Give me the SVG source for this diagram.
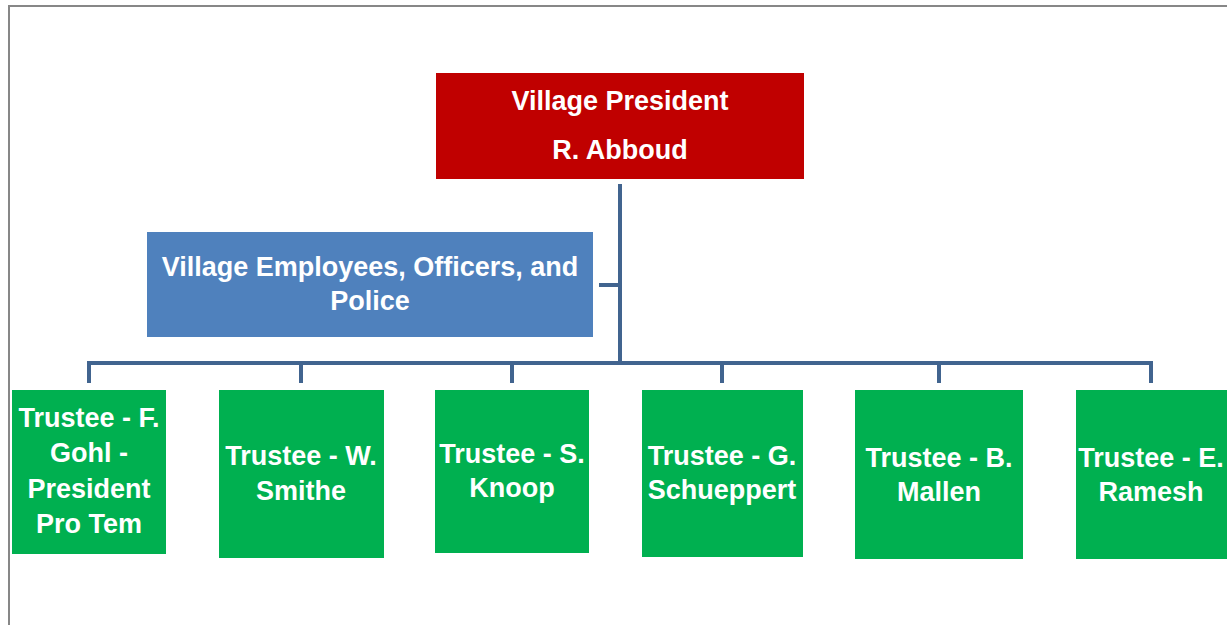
<svg xmlns="http://www.w3.org/2000/svg" width="1227" height="625" viewBox="0 0 1227 625">
<style>
.t{font-family:"Liberation Sans",Arial,sans-serif;font-weight:bold;font-size:27px;fill:#ffffff;text-anchor:middle}
.c{stroke:#41648f;stroke-width:4;fill:none}
.g{fill:#00b050}
</style>
<rect x="0" y="0" width="1227" height="625" fill="#ffffff"/>
<rect x="9" y="6" width="1400" height="800" fill="none" stroke="#878787" stroke-width="2"/>
<g id="connectors">
<path class="c" d="M620 184V363M599 285H620M88 363H1153M89 361V383M301 361V383M512 361V383M722 361V383M939 361V383M1151 361V383"/>
</g>
<g id="president">
<rect x="436" y="73" width="368" height="106" fill="#c00000"/>
<text class="t" x="620" y="110">Village President</text>
<text class="t" x="620" y="159">R. Abboud</text>
</g>
<g id="employees">
<rect x="147" y="232" width="446" height="105" fill="#4f81bd"/>
<text class="t" x="370" y="276">Village Employees, Officers, and</text>
<text class="t" x="370" y="310">Police</text>
</g>
<g id="trustee-gohl">
<rect class="g" x="12" y="390" width="154" height="164"/>
<text class="t" x="89" y="427">Trustee - F.</text>
<text class="t" x="89" y="462">Gohl -</text>
<text class="t" x="89" y="498">President</text>
<text class="t" x="89" y="533">Pro Tem</text>
</g>
<g id="trustee-smithe">
<rect class="g" x="219" y="390" width="165" height="168"/>
<text class="t" x="301" y="465">Trustee - W.</text>
<text class="t" x="301" y="500">Smithe</text>
</g>
<g id="trustee-knoop">
<rect class="g" x="435" y="390" width="154" height="163"/>
<text class="t" x="512" y="463">Trustee - S.</text>
<text class="t" x="512" y="497">Knoop</text>
</g>
<g id="trustee-schueppert">
<rect class="g" x="642" y="390" width="161" height="167"/>
<text class="t" x="722" y="465">Trustee - G.</text>
<text class="t" x="722" y="499">Schueppert</text>
</g>
<g id="trustee-mallen">
<rect class="g" x="855" y="390" width="168" height="169"/>
<text class="t" x="939" y="467">Trustee - B.</text>
<text class="t" x="939" y="501">Mallen</text>
</g>
<g id="trustee-ramesh">
<rect class="g" x="1076" y="390" width="152" height="169"/>
<text class="t" x="1151" y="467">Trustee - E.</text>
<text class="t" x="1151" y="501">Ramesh</text>
</g>
</svg>
